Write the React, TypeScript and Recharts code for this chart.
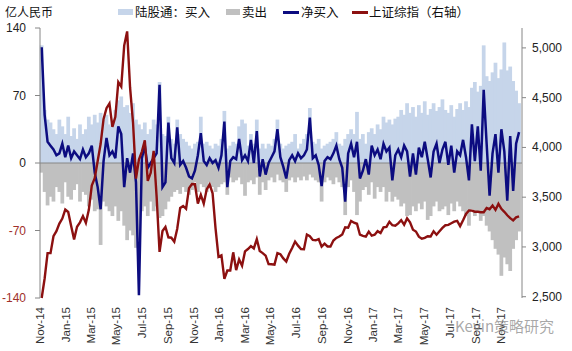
import { ComposedChart, Bar, Line, XAxis, YAxis, ReferenceLine } from 'recharts';

// weekly samples, Nov 2014 - Dec 2017 (亿人民币 per day)
const buyIn = [
  122, 55, 45, 42, 35, 30, 45, 38, 30, 48,
  28, 36, 25, 40, 30, 35, 48, 40, 50, 42,
  52, 45, 50, 40, 45, 55, 65, 69, 58, 60,
  52, 62, 45, 40, 35, 42, 30, 35, 45, 40,
  84, 30, 28, 48, 25, 20, 45, 30, 25, 22,
  18, 15, 20, 22, 48, 20, 22, 18, 15, 20,
  18, 25, 54, 15, 18, 22, 20, 38, 45, 41,
  18, 30, 20, 45, 15, 20, 15, 20, 18, 25,
  45, 20, 15, 18, 20, 22, 30, 15, 20, 25,
  30, 57, 22, 20, 25, 15, 18, 20, 22, 25,
  32, 20, 18, 25, 30, 35, 30, 53, 25, 30,
  20, 32, 36, 30, 40, 35, 48, 42, 45, 40,
  46, 48, 55, 50, 62, 52, 58, 48, 60, 52,
  64, 50, 56, 62, 54, 58, 66, 55, 52, 60,
  48, 56, 62, 55, 64, 58, 78, 84, 74, 80,
  122, 90, 85, 94, 104, 88, 97, 125, 96, 100,
  85, 75, 62,
];

const sellOut = [
  -10, -30, -44, -35, -40, -25, -30, -42, -20, -35,
  -38, -28, -22, -40, -30, -33, -45, -38, -50, -48,
  -85, -40, -45, -50, -55, -45, -60, -50, -65, -80,
  -70, -75, -88, -80, -50, -45, -55, -40, -50, -45,
  -57, -55, -48, -40, -35, -30, -28, -32, -25, -30,
  -33, -28, -20, -30, -22, -25, -30, -20, -25, -30,
  -25, -22, -20, -33, -15, -20, -18, -15, -22, -34,
  -20, -18, -22, -15, -33, -20, -28, -18, -15, -20,
  -12, -18, -20, -30, -18, -15, -20, -15, -18, -14,
  -18, -12, -15, -18, -20, -40, -20, -15, -18, -22,
  -15, -20, -25, -54, -25, -18, -30, -54, -40, -28,
  -25, -33, -20, -37, -25, -30, -25, -40, -30, -40,
  -35, -38, -45, -42, -55, -54, -45, -50, -42, -48,
  -40, -59, -55, -45, -40, -50, -48, -45, -54, -42,
  -50, -40, -45, -50, -55, -65, -48, -55, -50, -60,
  -55, -65, -71, -80, -89, -95, -117, -98, -105, -112,
  -89, -80, -71,
];

const netBuy = [
  120, 50, 22, 18, 14, 8, 10, 20, 6, 18,
  5, 12, 8, 4, 14, 6, 10, 18, -10, -25,
  -48, 2, 26, 8, 12, 5, 38, 30, -25, 5,
  -10, 10, -20, -137, 5, 18, -5, 0, 5, 10,
  81, -25, -20, 42, 5, 0, 37, -2, 2, -5,
  -14, -16, -8, 8, 31, 2, -2, 5, 0, 3,
  -5, 8, 43, -25, 2, 6, 4, 25, 3, 8,
  2, 24, 0, 33, -14, 4, -12, 0, 6, 12,
  35, 6, -4, -16, 3, 8, 2, 10, 5, 8,
  14, 47, 5, 8, -2, -24, 2, 6, 4, 10,
  18, 4, -5, -40, 10, 20, 6, 22, -16, -8,
  4, -12, 18, 8, 14, 4, 20, 12, 16, -18,
  8, 14, 6, 18, 12, -14, 10, -12, 16, 6,
  22, 4, -15, 12, 20, 0, 14, 22, -2, 18,
  -10, 12, 8, 24, 6, -18, 40, 2, 38, -8,
  76, 20, -34, 10, 30, -10, 35, 12, -39, 28,
  -29, 20, 32,
];

const sseIndex = [
  2487, 2683, 2938, 2938, 3108, 3158, 3235, 3285, 3376, 3351,
  3210, 3076, 3203, 3247, 3310, 3241, 3373, 3617, 3691, 3863,
  4034, 4287, 4394, 4442, 4206, 4308, 4657, 4611, 5023, 5166,
  4600, 4250, 3687, 3878, 3958, 4071, 3664, 3745, 3966, 3508,
  2950, 3160, 3200, 3097, 3093, 3053, 3183, 3391, 3412, 3383,
  3591, 3632, 3630, 3436, 3525, 3435, 3579, 3628, 3539, 3186,
  2901, 2916, 2680, 2763, 2763, 2946, 2767, 2874, 2811, 2955,
  2979, 3009, 2985, 3079, 2959, 2938, 2913, 2828, 2826, 2822,
  2938, 2927, 2885, 2854, 2932, 2989, 3054, 3013, 2979, 2977,
  3125, 3108, 3070, 3067, 3079, 3003, 3033, 3005, 3005, 3064,
  3091, 3105, 3126, 3197, 3193, 3262, 3244, 3233, 3123, 3111,
  3104, 3154, 3113, 3123, 3159, 3140, 3197, 3202, 3253, 3218,
  3213, 3237, 3269, 3223, 3287, 3247, 3173, 3155, 3103, 3083,
  3091, 3108, 3106, 3158, 3123, 3158, 3192, 3218, 3222, 3238,
  3254, 3262, 3209, 3268, 3332, 3367, 3365, 3354, 3353, 3349,
  3349, 3391, 3379, 3417, 3372, 3433, 3383, 3353, 3318, 3290,
  3267, 3297, 3307,
];

// days since 17 Nov 2014, one label every two months
const tickDays = [0, 61, 120, 181, 242, 304, 365, 426, 486, 547, 608, 670, 731, 792, 851, 912, 973, 1035, 1096];
const tickLabels = [
  'Nov-14', 'Jan-15', 'Mar-15', 'May-15', 'Jul-15', 'Sep-15', 'Nov-15', 'Jan-16', 'Mar-16', 'May-16',
  'Jul-16', 'Sep-16', 'Nov-16', 'Jan-17', 'Mar-17', 'May-17', 'Jul-17', 'Sep-17', 'Nov-17',
];
const firstDay = 4;
const daysPerWeek = 7;

const data = sseIndex.map((v, i) => ({
  d: firstDay + i * daysPerWeek,
  buy: buyIn[i],
  sell: sellOut[i],
  net: netBuy[i],
  sse: v,
}));

const FONT = '"Liberation Sans", Arial, sans-serif';
const CJK = '"Noto Sans CJK SC", sans-serif';

const DateTick = ({ x, y, payload }: any) => {
  const idx = tickDays.indexOf(payload.value);
  return (
    <text x={x} y={y} transform={`rotate(-90, ${x}, ${y})`} textAnchor="end" dominantBaseline="central"
      fontSize={11.5} fontFamily={FONT} fill="#333">
      {idx >= 0 ? tickLabels[idx] : ''}
    </text>
  );
};

const LeftTick = ({ x, y, payload }: any) => (
  <text x={x} y={y} textAnchor="end" dominantBaseline="central" fontSize={12} fontFamily={FONT}
    fill={payload.value < 0 ? '#a0302a' : '#222'}>
    {payload.value}
  </text>
);

const RightTick = ({ x, y, payload }: any) => (
  <text x={x} y={y} textAnchor="start" dominantBaseline="central" fontSize={12} fontFamily={FONT} fill="#222">
    {payload.value.toLocaleString('en-US')}
  </text>
);

// bars sit edge to edge like Excel's zero-gap columns; pad half a pixel to hide seams
const FlowBar = ({ x, y, width, height, fill }: any) => {
  if (!height) return null;
  const top = height < 0 ? y + height : y;
  return <rect x={x - 0.4} y={top} width={width + 0.8} height={Math.abs(height)} fill={fill} />;
};

export default function App() {
  return (
    <div style={{ position: 'absolute', left: 0, top: 0, width: 572, height: 351, background: '#fff' }}>
      <ComposedChart width={572} height={351} data={data} stackOffset="sign" barCategoryGap={0} barGap={0}
        margin={{ top: 28, right: 0, bottom: 0, left: 0 }}>
        <XAxis dataKey="d" type="number" domain={[0, 1145]} ticks={tickDays} tick={<DateTick />}
          axisLine={false} tickLine={false} tickSize={0} tickMargin={9} height={53} interval={0} />
        <YAxis yAxisId="left" domain={[-140, 140]} ticks={[-140, -70, 0, 70, 140]} width={40}
          tick={<LeftTick />} tickSize={5} tickMargin={9} stroke="#868686" interval={0} />
        <YAxis yAxisId="right" orientation="right" domain={[2500, 5200]} ticks={[2500, 3000, 3500, 4000, 4500, 5000]}
          width={50} tick={<RightTick />} tickSize={4} tickMargin={6} stroke="#868686" interval={0} />
        <Bar yAxisId="left" dataKey="buy" stackId="flow" fill="#c6d5ea" barSize={2.94} shape={<FlowBar />}
          isAnimationActive={false} />
        <Bar yAxisId="left" dataKey="sell" stackId="flow" fill="#c0c0c0" barSize={2.94} shape={<FlowBar />}
          isAnimationActive={false} />
        <ReferenceLine yAxisId="left" y={0} stroke="#868686" strokeWidth={1} />
        <Line yAxisId="left" dataKey="net" type="linear" stroke="#0c0c80" strokeWidth={2.5} dot={false}
          isAnimationActive={false} />
        <Line yAxisId="right" dataKey="sse" type="linear" stroke="#8c1010" strokeWidth={2.4} dot={false}
          isAnimationActive={false} />
      </ComposedChart>

      <div style={{ position: 'absolute', left: 5, top: 4, fontSize: 12, fontFamily: CJK, color: '#111', lineHeight: '16px' }}>
        亿人民币
      </div>
      <div style={{ position: 'absolute', left: 0, top: 4, width: 572, height: 16, fontSize: 12.5, fontFamily: CJK, color: '#111', lineHeight: '16px' }}>
        <span style={{ position: 'absolute', left: 118, top: 5, width: 15, height: 6, background: '#c6d5ea' }} />
        <span style={{ position: 'absolute', left: 135, top: 0, whiteSpace: 'nowrap' }}>陆股通：买入</span>
        <span style={{ position: 'absolute', left: 226, top: 5, width: 14, height: 6, background: '#c0c0c0' }} />
        <span style={{ position: 'absolute', left: 242, top: 0, whiteSpace: 'nowrap' }}>卖出</span>
        <span style={{ position: 'absolute', left: 283, top: 7, width: 16, height: 2.5, background: '#0c0c80' }} />
        <span style={{ position: 'absolute', left: 301, top: 0, whiteSpace: 'nowrap' }}>净买入</span>
        <span style={{ position: 'absolute', left: 352, top: 7, width: 16, height: 2.5, background: '#8c1010' }} />
        <span style={{ position: 'absolute', left: 369, top: 0, whiteSpace: 'nowrap' }}>上证综指（右轴）</span>
      </div>
      <div style={{ position: 'absolute', left: 455, top: 315, fontSize: 15, fontFamily: CJK, color: 'rgba(140,140,140,0.75)', whiteSpace: 'nowrap' }}>
        Kevin策略研究
      </div>
    </div>
  );
}
